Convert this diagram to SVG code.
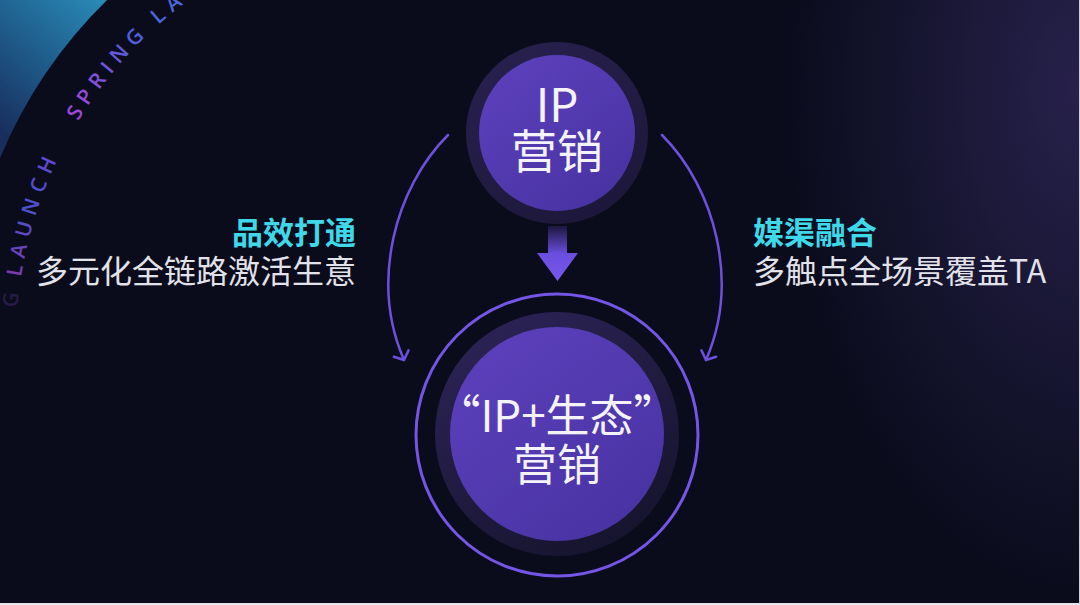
<svg xmlns="http://www.w3.org/2000/svg" width="1080" height="605" viewBox="0 0 1080 605">
  <defs>
    <style>
      .cn { font-family: "Noto Sans CJK SC", "Noto Sans", sans-serif; }
      .head { font-size: 31px; font-weight: 700; fill: #3fd8e8; }
      .sub { font-size: 32px; font-weight: 400; fill: #e2e2ea; }
      .node-text { font-size: 46px; font-weight: 400; fill: #f4f2fa; text-anchor: middle; }
      .ring-text { font-family: "Open Sans", "DejaVu Sans", sans-serif; font-size: 21px; font-weight: 600; }
      .conn { fill: none; stroke: #6e50dc; stroke-width: 2.5; stroke-linecap: round; }
    </style>
    <radialGradient id="bgGlow" cx="1080" cy="90" r="420" gradientUnits="userSpaceOnUse" gradientTransform="translate(1080 90) scale(0.7 1.2) translate(-1080 -90)">
      <stop offset="0" stop-color="#2a2350" stop-opacity="0.9"/>
      <stop offset="1" stop-color="#2a2350" stop-opacity="0"/>
    </radialGradient>
    <linearGradient id="tealCorner" x1="110" y1="5" x2="0" y2="130" gradientUnits="userSpaceOnUse">
      <stop offset="0" stop-color="#2a8ab6"/>
      <stop offset="0.5" stop-color="#1f5d8c"/>
      <stop offset="1" stop-color="#182f5e"/>
    </linearGradient>
    <linearGradient id="gradLaunch" x1="10" y1="272" x2="50" y2="160" gradientUnits="userSpaceOnUse">
      <stop offset="0" stop-color="#7a3cae"/>
      <stop offset="0.55" stop-color="#4c52c8"/>
      <stop offset="1" stop-color="#6048d2"/>
    </linearGradient>
    <linearGradient id="gradSpring" x1="70" y1="118" x2="140" y2="34" gradientUnits="userSpaceOnUse">
      <stop offset="0" stop-color="#a545d6"/>
      <stop offset="1" stop-color="#4a62da"/>
    </linearGradient>
    <linearGradient id="innerFill" x1="0" y1="0" x2="0.8" y2="1">
      <stop offset="0" stop-color="#5d41be"/>
      <stop offset="1" stop-color="#4833a2"/>
    </linearGradient>
    <linearGradient id="darkRing" x1="0.2" y1="0" x2="0.8" y2="1">
      <stop offset="0" stop-color="#2c2356"/>
      <stop offset="1" stop-color="#15132b"/>
    </linearGradient>
    <linearGradient id="topRing" x1="0.2" y1="0" x2="0.8" y2="1">
      <stop offset="0" stop-color="#28204e"/>
      <stop offset="1" stop-color="#1c1739"/>
    </linearGradient>
    <linearGradient id="stemGrad" x1="0" y1="226" x2="0" y2="254" gradientUnits="userSpaceOnUse">
      <stop offset="0" stop-color="#1c173c"/>
      <stop offset="1" stop-color="#6a4ede"/>
    </linearGradient>
    <linearGradient id="headGrad" x1="0" y1="253" x2="0" y2="281" gradientUnits="userSpaceOnUse">
      <stop offset="0" stop-color="#6a4ede"/>
      <stop offset="1" stop-color="#7658ec"/>
    </linearGradient>
    <marker id="chev" markerUnits="userSpaceOnUse" markerWidth="20" markerHeight="20" refX="10" refY="10" orient="auto" overflow="visible">
      <path d="M3,2 L10,10 L3,18" fill="none" stroke="#6e50dc" stroke-width="2.5" stroke-linecap="round" stroke-linejoin="round"/>
    </marker>
    <path id="ringPath" d="M16,343 A427,427 0 0,1 443,-84"/>
  </defs>

  <!-- background -->
  <rect width="1080" height="605" fill="#0a0c1c"/>
  <rect width="1080" height="605" fill="url(#bgGlow)"/>
  <path d="M0,0 L107,0 A480,480 0 0,0 0,158 Z" fill="url(#tealCorner)"/>

  <!-- ring lettering -->
  <g id="ring-lettering" class="ring-text">
    <text fill="#6a3aa0" opacity="0.3"><textPath href="#ringPath" startOffset="35">G</textPath></text>
    <text fill="url(#gradLaunch)"><textPath href="#ringPath" startOffset="66" textLength="122" lengthAdjust="spacing">LAUNCH</textPath></text>
    <text fill="url(#gradSpring)"><textPath href="#ringPath" startOffset="233" textLength="108" lengthAdjust="spacing">SPRING</textPath></text>
    <text fill="#4a66d8"><textPath href="#ringPath" startOffset="359" letter-spacing="7">LA</textPath></text>
  </g>

  <!-- connectors -->
  <g id="connectors">
    <path class="conn" d="M448,135 C395,188 370,282 404,360" marker-end="url(#chev)"/>
    <path class="conn" d="M662,135 C715,188 740,282 706,360" marker-end="url(#chev)"/>
    <g id="down-arrow">
      <rect x="548" y="226" width="19" height="28" fill="url(#stemGrad)"/>
      <polygon points="537,253 578,253 557.5,281" fill="url(#headGrad)"/>
    </g>
  </g>

  <!-- top node -->
  <g id="node-ip">
    <circle cx="557" cy="133" r="91" fill="url(#topRing)"/>
    <circle cx="557" cy="133" r="78" fill="url(#innerFill)"/>
    <text class="cn node-text" x="557" y="122">IP</text>
    <text class="cn node-text" x="557" y="168">营销</text>
  </g>

  <!-- bottom node -->
  <g id="node-ip-eco">
    <circle cx="557" cy="435" r="141" fill="none" stroke="#7455e6" stroke-width="3"/>
    <circle cx="557" cy="434" r="122" fill="url(#darkRing)"/>
    <circle cx="557" cy="434" r="107" fill="url(#innerFill)"/>
    <text class="cn node-text" x="557" y="432" style="font-size:44px">“IP+生态”</text>
    <text class="cn node-text" x="557" y="481" style="font-size:44px">营销</text>
  </g>

  <!-- left label -->
  <g id="label-left">
    <text class="cn head" x="356" y="244" text-anchor="end">品效打通</text>
    <text class="cn sub" x="356" y="283" text-anchor="end">多元化全链路激活生意</text>
  </g>

  <!-- right label -->
  <g id="label-right">
    <text class="cn head" x="753" y="244">媒渠融合</text>
    <text class="cn sub" x="753" y="283">多触点全场景覆盖TA</text>
  </g>

  <!-- frame edge -->
  <rect x="0" y="603" width="1080" height="2" fill="#e4e4ea"/>
  <rect x="1079" y="0" width="1" height="605" fill="#cfcfd8"/>
</svg>
